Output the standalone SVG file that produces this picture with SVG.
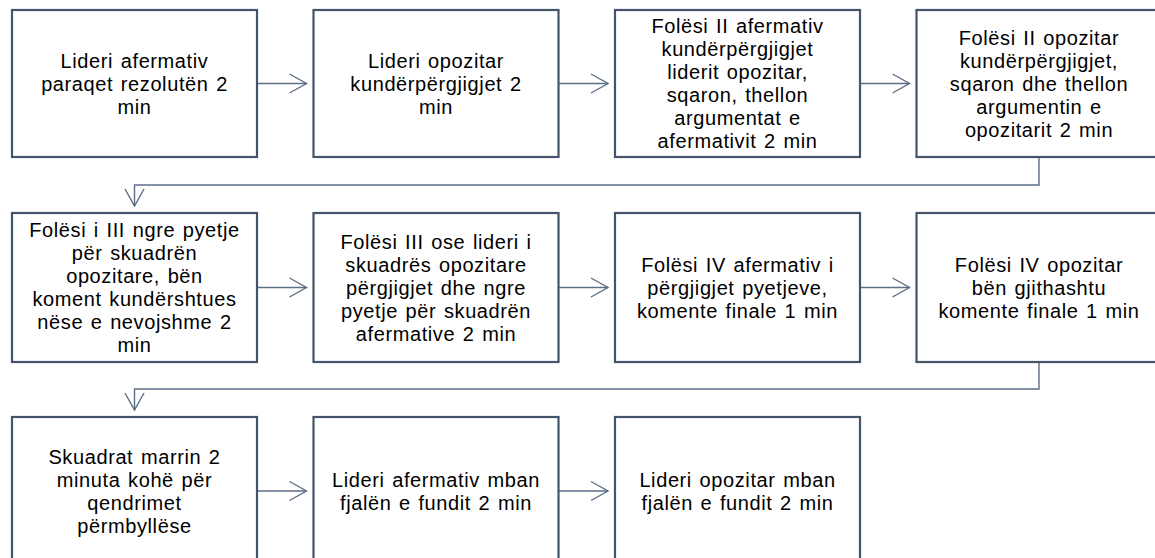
<svg xmlns="http://www.w3.org/2000/svg" width="1155" height="558" viewBox="0 0 1155 558">
<defs>
<style>
.box{fill:#fff;stroke:#44546A;stroke-width:2.2}
.lbl{font-family:"Liberation Sans",Arial,sans-serif;font-size:20px;fill:#000;text-anchor:middle;letter-spacing:0.6px;word-spacing:1.5px}
.con{fill:none;stroke:#5D6E87;stroke-width:1.4}
</style>
<marker id="ah" markerUnits="userSpaceOnUse" markerWidth="22" markerHeight="24" refX="18" refY="11" orient="auto">
<path d="M1,1.5 L18,11 L1,20.5" fill="none" stroke="#5D6E87" stroke-width="1.4"/>
</marker>
</defs>
<rect width="1155" height="558" fill="#fff"/>
<g id="connectors">
<line class="con" x1="257" y1="83.5" x2="306.5" y2="83.5" marker-end="url(#ah)"/>
<line class="con" x1="558.5" y1="83.5" x2="608" y2="83.5" marker-end="url(#ah)"/>
<line class="con" x1="860" y1="83.5" x2="909.5" y2="83.5" marker-end="url(#ah)"/>
<path class="con" d="M1039,157 V185 H134.5 V206" marker-end="url(#ah)"/>
<line class="con" x1="257" y1="287.5" x2="306.5" y2="287.5" marker-end="url(#ah)"/>
<line class="con" x1="558.5" y1="287.5" x2="608" y2="287.5" marker-end="url(#ah)"/>
<line class="con" x1="860" y1="287.5" x2="909.5" y2="287.5" marker-end="url(#ah)"/>
<path class="con" d="M1039,362 V389 H134.5 V410" marker-end="url(#ah)"/>
<line class="con" x1="257" y1="491" x2="306.5" y2="491" marker-end="url(#ah)"/>
<line class="con" x1="558.5" y1="491" x2="608" y2="491" marker-end="url(#ah)"/>
</g>
<g id="n1"><rect class="box" x="12" y="10" width="245" height="147"/>
<text class="lbl"><tspan x="134.5" y="68">Lideri afermativ</tspan><tspan x="134.5" y="91">paraqet rezolutën 2</tspan><tspan x="134.5" y="114">min</tspan></text></g>
<g id="n2"><rect class="box" x="313.5" y="10" width="245" height="147"/>
<text class="lbl"><tspan x="436" y="68">Lideri opozitar</tspan><tspan x="436" y="91">kundërpërgjigjet 2</tspan><tspan x="436" y="114">min</tspan></text></g>
<g id="n3"><rect class="box" x="615" y="10" width="245" height="147"/>
<text class="lbl"><tspan x="737.5" y="33">Folësi II afermativ</tspan><tspan x="737.5" y="56">kundërpërgjigjet</tspan><tspan x="737.5" y="79">liderit opozitar,</tspan><tspan x="737.5" y="102">sqaron, thellon</tspan><tspan x="737.5" y="125">argumentat e</tspan><tspan x="737.5" y="148">afermativit 2 min</tspan></text></g>
<g id="n4"><rect class="box" x="916.5" y="10" width="245" height="147"/>
<text class="lbl"><tspan x="1039" y="45">Folësi II opozitar</tspan><tspan x="1039" y="68">kundërpërgjigjet,</tspan><tspan x="1039" y="91">sqaron dhe thellon</tspan><tspan x="1039" y="114">argumentin e</tspan><tspan x="1039" y="137">opozitarit 2 min</tspan></text></g>
<g id="n5"><rect class="box" x="12" y="213" width="245" height="149"/>
<text class="lbl"><tspan x="134.5" y="237">Folësi i III ngre pyetje</tspan><tspan x="134.5" y="260">për skuadrën</tspan><tspan x="134.5" y="283">opozitare, bën</tspan><tspan x="134.5" y="306">koment kundërshtues</tspan><tspan x="134.5" y="329">nëse e nevojshme 2</tspan><tspan x="134.5" y="352">min</tspan></text></g>
<g id="n6"><rect class="box" x="313.5" y="213" width="245" height="149"/>
<text class="lbl"><tspan x="436" y="248.5">Folësi III ose lideri i</tspan><tspan x="436" y="271.5">skuadrës opozitare</tspan><tspan x="436" y="294.5">përgjigjet dhe ngre</tspan><tspan x="436" y="317.5">pyetje për skuadrën</tspan><tspan x="436" y="340.5">afermative 2 min</tspan></text></g>
<g id="n7"><rect class="box" x="615" y="213" width="245" height="149"/>
<text class="lbl"><tspan x="737.5" y="271.5">Folësi IV afermativ i</tspan><tspan x="737.5" y="294.5">përgjigjet pyetjeve,</tspan><tspan x="737.5" y="317.5">komente finale 1 min</tspan></text></g>
<g id="n8"><rect class="box" x="916.5" y="213" width="245" height="149"/>
<text class="lbl"><tspan x="1039" y="271.5">Folësi IV opozitar</tspan><tspan x="1039" y="294.5">bën gjithashtu</tspan><tspan x="1039" y="317.5">komente finale 1 min</tspan></text></g>
<g id="n9"><rect class="box" x="12" y="417" width="245" height="150"/>
<text class="lbl"><tspan x="134.5" y="463.5">Skuadrat marrin 2</tspan><tspan x="134.5" y="486.5">minuta kohë për</tspan><tspan x="134.5" y="509.5">qendrimet</tspan><tspan x="134.5" y="532.5">përmbyllëse</tspan></text></g>
<g id="n10"><rect class="box" x="313.5" y="417" width="245" height="150"/>
<text class="lbl"><tspan x="436" y="486.5">Lideri afermativ mban</tspan><tspan x="436" y="509.5">fjalën e fundit 2 min</tspan></text></g>
<g id="n11"><rect class="box" x="615" y="417" width="245" height="150"/>
<text class="lbl"><tspan x="737.5" y="486.5">Lideri opozitar mban</tspan><tspan x="737.5" y="509.5">fjalën e fundit 2 min</tspan></text></g>
</svg>
